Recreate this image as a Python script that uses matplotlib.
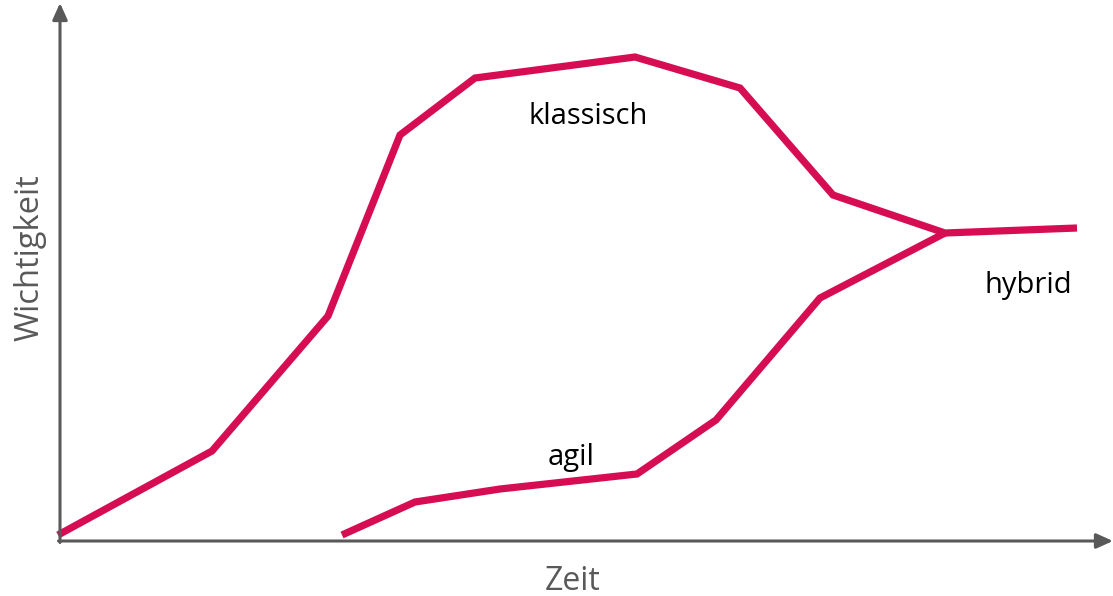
import matplotlib
matplotlib.use("Agg")
import matplotlib.pyplot as plt

# data (time vs. importance), origin at the axis corner
klassisch_x = [-2, 152, 268, 340, 415, 575, 680, 773, 885, 1017]
klassisch_y = [6, 90, 225, 406, 463, 484, 453, 346, 308, 313]
agil_x = [282, 355, 440, 577, 656, 760, 885]
agil_y = [6, 39, 52, 67, 121, 243, 308]

line_color = "#D60D53"
axis_color = "#595959"
plt.rcParams['font.family'] = ['Open Sans', 'DejaVu Sans']

fig = plt.figure(figsize=(11.13, 5.96), dpi=100)
ax = fig.add_axes([0, 0, 1, 1])
ax.set_xlim(-60, 1053)
ax.set_ylim(-55, 541)
ax.axis("off")

# axes with arrow heads
ax.annotate("", xy=(0, 538), xytext=(0, -1.5),
            arrowprops=dict(arrowstyle="-|>,head_length=1.0,head_width=0.45",
                            color=axis_color, lw=2.2, shrinkA=0, shrinkB=0))
ax.annotate("", xy=(1053, 0), xytext=(-1.5, 0),
            arrowprops=dict(arrowstyle="-|>,head_length=1.0,head_width=0.45",
                            color=axis_color, lw=2.2, shrinkA=0, shrinkB=0))

ax.plot(klassisch_x, klassisch_y, color=line_color, lw=5.2, solid_joinstyle="miter",
        solid_capstyle="butt", clip_on=False)
ax.plot(agil_x, agil_y, color=line_color, lw=5.2, solid_joinstyle="miter",
        solid_capstyle="butt", clip_on=False)

ax.text(528, 424, "klassisch", fontsize=21, ha="center", va="center", color="black")
ax.text(511, 84, "agil", fontsize=21, ha="center", va="center", color="black")
ax.text(968, 256, "hybrid", fontsize=21, ha="center", va="center", color="black")

ax.text(513, -40, "Zeit", fontsize=23, ha="center", va="center", color=axis_color)
ax.text(-30, 283, "Wichtigkeit", fontsize=23.5, ha="center", va="center",
        rotation=90, color=axis_color)

fig.savefig("out.png", dpi=100)
